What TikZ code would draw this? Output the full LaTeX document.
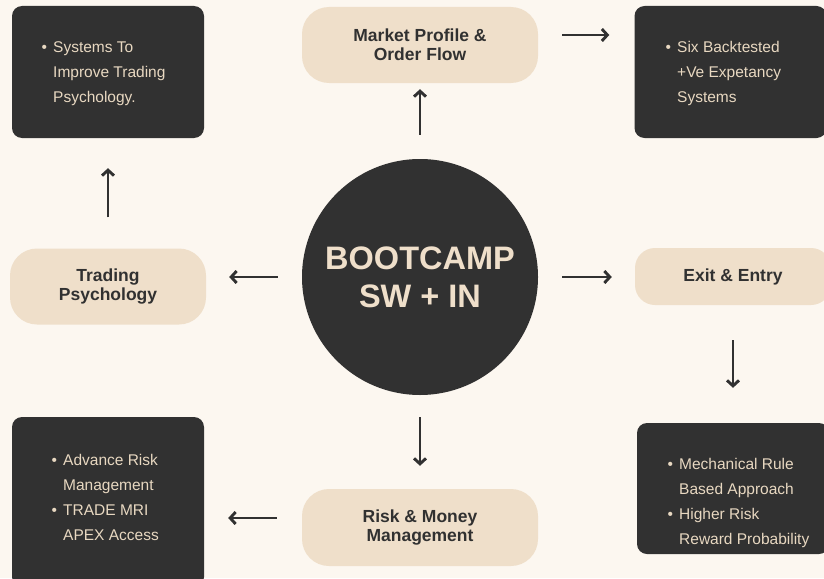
\documentclass[tikz,border=0pt]{standalone}
\usepackage{fontspec}
\setmainfont{Liberation Sans}
\usetikzlibrary{arrows.meta,calc}
\definecolor{paper}{HTML}{FCF7F0}
\definecolor{ink}{HTML}{313131}
\definecolor{sand}{HTML}{EFDFCA}
\definecolor{cream}{HTML}{E8D8C1}
\tikzset{
  pill/.style={fill=sand,rounded corners=27pt,minimum width=236pt,minimum height=76pt,align=center,text=ink,font=\fontsize{17.5}{19}\selectfont\bfseries},
  darkbox/.style={fill=ink,rounded corners=10pt,minimum width=192pt,minimum height=132pt},
  boxtext/.style={anchor=north west,align=left,inner sep=0pt,text=cream,font=\fontsize{15.5}{25}\selectfont},
  flow/.style={draw=ink,line width=2.9pt,-{Straight Barb[length=5.5pt,width=12pt]},shorten <=24pt,shorten >=23pt}
}
\newcommand{\bul}[1]{\makebox[11.5pt][l]{•}#1}
\newcommand{\hang}[1]{\hspace*{11.5pt}#1}
\begin{document}
\begin{tikzpicture}[x=1pt,y=-1pt]
\fill[paper](0,0)rectangle(824,578);
\useasboundingbox(0,0)rectangle(824,578);
%dark boxes
\node[darkbox](psybox)at(108,72){};
\node[darkbox](sixbox)at(730.5,72){};
\node[darkbox,minimum height=170pt](advbox)at(108,502){};
\node[darkbox,minimum height=131pt](rulebox)at(733,488.5){};
%centre
\node[circle,fill=ink,minimum size=236pt,inner sep=0pt,align=center,text=sand,font=\fontsize{32.5}{38}\selectfont\bfseries](core)at(420,277){BOOTCAMP\\SW + IN};
%pills
\node[pill](mp)at(420,45){Market Profile \&\\Order Flow};
\node[pill,minimum width=196pt](trade)at(108,286.5){Trading\\Psychology};
\node[pill,minimum width=196pt,minimum height=57pt,rounded corners=20pt](exit)at(733,276.5){Exit \& Entry};
\node[pill,minimum height=77pt](risk)at(420,527.5){Risk \& Money\\Management};
%arrows
\draw[flow,shorten <=24pt,shorten >=6pt](core.north)--(mp.south);
\draw[flow,shorten >=25pt]([yshift=10pt]mp.east)--([yshift=10pt]mp.east -| sixbox.west);
\draw[flow,shorten <=31pt,shorten >=30pt](trade.north)--(psybox.south);
\draw[flow](core.west)--(core.west -| trade.east);
\draw[flow](core.east)--(core.east -| exit.west);
\draw[flow,shorten <=35pt,shorten >=35pt](exit.south)--(exit.south |- rulebox.north);
\draw[flow,shorten <=22pt,shorten >=23pt](core.south)--(risk.north);
\draw[flow,shorten <=25pt,shorten >=24pt]([yshift=9.5pt]risk.west)--([yshift=9.5pt]risk.west -| advbox.east);
%labels
\node[boxtext](psytext)at(41.5,41.4){\bul{Systems To}\\\hang{Improve Trading}\\\hang{Psychology.}};
\node[boxtext](sixtext)at(665.5,40.9){\bul{Six Backtested}\\\hang{+Ve Expetancy}\\\hang{Systems}};
\node[boxtext](advtext)at(51.5,453.7){\bul{Advance Risk}\\\hang{Management}\\\bul{TRADE MRI}\\\hang{APEX Access}};
\node[boxtext](ruletext)at(667.5,458){\bul{Mechanical Rule}\\\hang{Based Approach}\\\bul{Higher Risk}\\\hang{Reward Probability}};
\end{tikzpicture}
\end{document}
